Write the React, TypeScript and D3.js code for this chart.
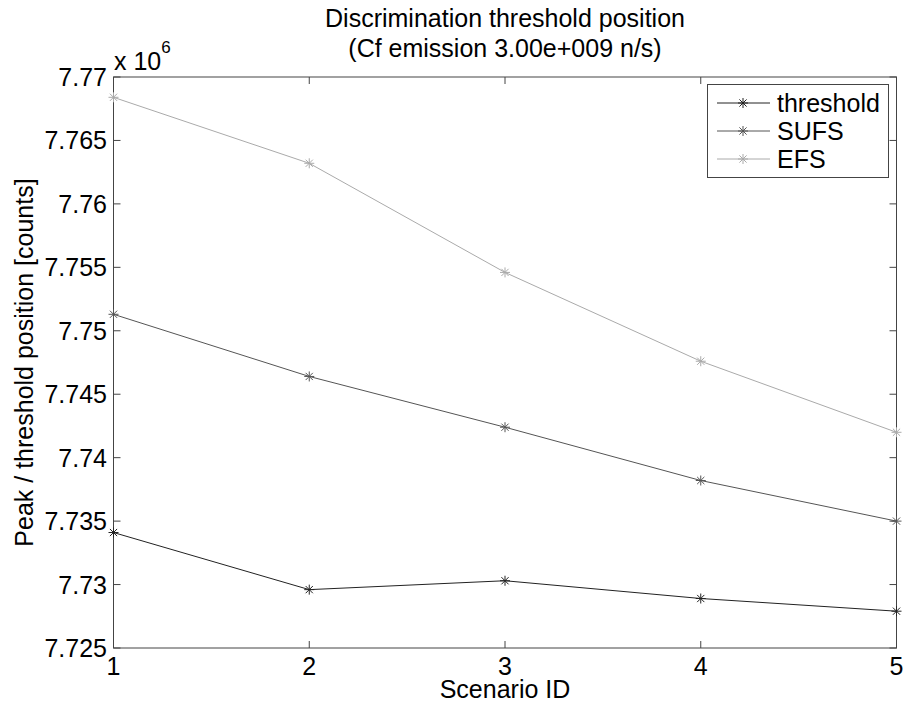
import React, { useEffect, useRef } from "react";
import * as d3 from "d3";

const scenarios = [1, 2, 3, 4, 5];
const thresholdVals = [7.7341, 7.7296, 7.7303, 7.7289, 7.7279];
const sufsVals = [7.7513, 7.7464, 7.7424, 7.7382, 7.735];
const efsVals = [7.7684, 7.7632, 7.7546, 7.7476, 7.742];
const yTicks = [7.725, 7.73, 7.735, 7.74, 7.745, 7.75, 7.755, 7.76, 7.765, 7.77];
const seriesNames = ["threshold", "SUFS", "EFS"];
const seriesColors = ["#222", "#555", "#aaa"];

const App = () => {
  const ref = useRef<SVGSVGElement>(null);

  useEffect(() => {
    const svg = d3.select(ref.current);
    svg.selectAll("*").remove();
    const width = 905;
    const height = 704;
    const left = 113.5;
    const right = 896.5;
    const top = 77;
    const bottom = 648;
    const font = "Liberation Sans, Arial, Helvetica, sans-serif";

    const x = d3.scaleLinear().domain([1, 5]).range([left, right]);
    const y = d3.scaleLinear().domain([7.725, 7.77]).range([bottom, top]);

    svg.attr("width", width).attr("height", height)
      .style("display", "block").style("position", "absolute")
      .style("left", "0px").style("top", "0px")
      .style("font-family", font);

    svg.append("rect").attr("width", width).attr("height", height).attr("fill", "#fff");

    // frame
    const axisColor = "#444";
    svg.append("rect")
      .attr("x", left).attr("y", top)
      .attr("width", right - left).attr("height", bottom - top)
      .attr("fill", "none").attr("stroke", axisColor).attr("stroke-width", 1);

    const tickLen = 7;
    const gt = svg.append("g").attr("stroke", axisColor).attr("stroke-width", 1);
    scenarios.forEach((s) => {
      gt.append("line").attr("x1", x(s)).attr("x2", x(s)).attr("y1", bottom).attr("y2", bottom - tickLen);
      gt.append("line").attr("x1", x(s)).attr("x2", x(s)).attr("y1", top).attr("y2", top + tickLen);
    });
    yTicks.forEach((t) => {
      gt.append("line").attr("x1", left).attr("x2", left + tickLen).attr("y1", y(t)).attr("y2", y(t));
      gt.append("line").attr("x1", right).attr("x2", right - tickLen).attr("y1", y(t)).attr("y2", y(t));
    });

    // tick labels
    svg.append("g").selectAll("text").data(scenarios).join("text")
      .attr("x", (d) => x(d)).attr("y", 675)
      .attr("text-anchor", "middle").attr("font-size", 25).attr("fill", "#000")
      .text((d) => d);
    svg.append("g").selectAll("text").data(yTicks).join("text")
      .attr("x", 107).attr("y", (d) => y(d) + 9)
      .attr("text-anchor", "end").attr("font-size", 25).attr("fill", "#000")
      .text((d) => String(+d.toFixed(3)));

    // exponent
    const ex = svg.append("text").attr("x", 114).attr("y", 70).attr("font-size", 25).attr("fill", "#000");
    ex.append("tspan").text("x 10");
    ex.append("tspan").attr("dy", -17).attr("font-size", 17).text("6");

    // titles
    svg.append("text").attr("x", (left + right) / 2).attr("y", 27)
      .attr("text-anchor", "middle").attr("font-size", 25).text("Discrimination threshold position");
    svg.append("text").attr("x", (left + right) / 2).attr("y", 57)
      .attr("text-anchor", "middle").attr("font-size", 25).text("(Cf emission 3.00e+009 n/s)");
    svg.append("text").attr("x", (left + right) / 2).attr("y", 698)
      .attr("text-anchor", "middle").attr("font-size", 25).text("Scenario ID");
    svg.append("text")
      .attr("transform", `translate(33,${(top + bottom) / 2}) rotate(-90)`)
      .attr("text-anchor", "middle").attr("font-size", 25).text("Peak / threshold position [counts]");

    const star = (g: any, cx: number, cy: number, color: string) => {
      const r = 5;
      const d = r * 0.72;
      const p = `M${cx - r},${cy}L${cx + r},${cy}M${cx},${cy - r}L${cx},${cy + r}` +
        `M${cx - d},${cy - d}L${cx + d},${cy + d}M${cx - d},${cy + d}L${cx + d},${cy - d}`;
      g.append("path").attr("d", p).attr("stroke", color).attr("stroke-width", 1).attr("fill", "none");
    };

    const allSeries = [thresholdVals, sufsVals, efsVals];
    const line = d3.line<number>().x((_, i) => x(scenarios[i])).y((v) => y(v));
    allSeries.forEach((vals, k) => {
      const g = svg.append("g");
      g.append("path").attr("d", line(vals)).attr("fill", "none")
        .attr("stroke", seriesColors[k]).attr("stroke-width", 1);
      vals.forEach((v, i) => star(g, x(scenarios[i]), y(v), seriesColors[k]));
    });

    // legend
    const lg = svg.append("g");
    lg.append("rect").attr("x", 707.5).attr("y", 84.5).attr("width", 181).attr("height", 93)
      .attr("fill", "#fff").attr("stroke", axisColor).attr("stroke-width", 1);
    seriesNames.forEach((name, k) => {
      const ly = 103 + k * 28;
      lg.append("line").attr("x1", 717).attr("x2", 770).attr("y1", ly).attr("y2", ly)
        .attr("stroke", seriesColors[k]).attr("stroke-width", 1);
      star(lg, 743, ly, seriesColors[k]);
      lg.append("text").attr("x", 777).attr("y", ly + 9).attr("font-size", 25).text(name);
    });
  }, []);

  return <svg ref={ref} />;
};

export default App;
